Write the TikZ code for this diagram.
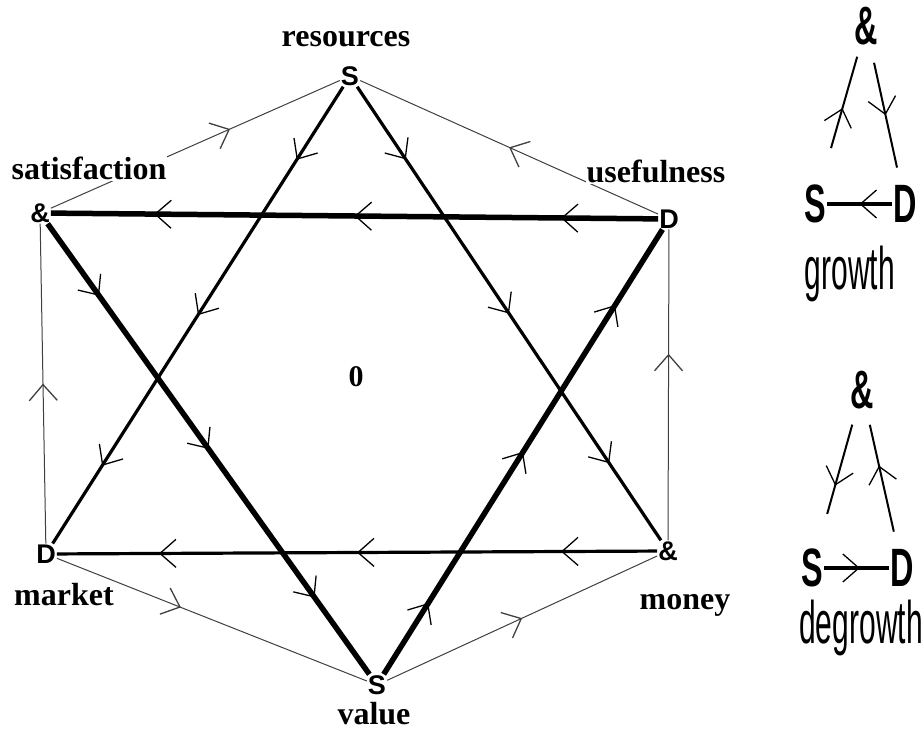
\documentclass[tikz,border=0pt]{standalone}
\usepackage{fontspec}
\setmainfont{Liberation Serif}
\setsansfont{Liberation Sans}
\usetikzlibrary{arrows.meta,decorations.markings}
\begin{document}
\begin{tikzpicture}[x=1pt,y=-1pt,
  barb/.tip={Straight Barb[length=16pt,width=28pt,line width=1.3pt]},
  one/.style={postaction={decorate,decoration={markings,mark=at position #1 with {\arrow{barb}}}}},
  three/.style={postaction={decorate,decoration={markings,
     mark=at position 0.16 with {\arrow{barb}},
     mark=at position 0.5 with {\arrow{barb}},
     mark=at position 0.83 with {\arrow{barb}}}}},
  thin/.style={line width=1pt,draw=black!75},
  med/.style={line width=3.2pt},
  heavy/.style={line width=5.5pt},
  vl/.style={font=\sffamily\bfseries\fontsize{27}{27}\selectfont,inner sep=1pt},
  lab/.style={font=\bfseries\fontsize{32}{32}\selectfont,inner sep=1pt,anchor=base},
  labfill/.style={lab,fill=white},
  sm/.style={font=\sffamily\bfseries\fontsize{54}{54}\selectfont,xscale=0.6,inner sep=2pt},
  word/.style={font=\sffamily\fontsize{60}{60}\selectfont,xscale=0.5,inner sep=0pt,anchor=base},
  smline/.style={line width=2pt},
  smbase/.style={line width=3.5pt},
]
\fill[white] (0,0) rectangle (924,730);
\useasboundingbox (0,0) rectangle (924,730);

% vertices
\node[vl] (R) at (350,76) {S};
\node[vl] (Sa) at (40,213) {\&};
\node[vl] (U) at (669,219) {D};
\node[vl] (M) at (46,554) {D};
\node[vl] (Mo) at (668,551) {\&};
\node[vl] (V) at (377,685) {S};

% hexagon (thin)
\draw[thin,one=0.62] (Sa) -- (R);
\draw[thin,one=0.5] (U) -- (R);
\draw[thin,one=0.5] (M) -- (Sa);
\draw[thin,one=0.6] (Mo) -- (U);
\draw[thin,one=0.4] (M) -- (V);
\draw[thin,one=0.5] (V) -- (Mo);

% triangle 1 (heavy)
\draw[heavy,three] (U) -- (Sa);
\draw[heavy,three] (Sa) -- (V);
\draw[heavy,three] (V) -- (U);

% triangle 2 (medium)
\draw[med,three] (R) -- (M);
\draw[med,three] (R) -- (Mo);
\draw[med,three] (Mo) -- (M);

% labels
\node[lab] (lR) at (346,47) {resources};
\node[labfill] (lSa) at (89,180) {satisfaction};
\node[labfill] (lU) at (656,183) {usefulness};
\node[lab] (lM) at (64,605) {market};
\node[lab] (lMo) at (685,609) {money};
\node[lab,inner sep=0pt] (lV) at (374,724) {value};
\node[font=\bfseries\fontsize{30}{30}\selectfont] (zero) at (356,377) {0};

% growth
\node[sm] (A1) at (866,26) {\&};
\node[sm] (S1) at (815,204) {S};
\node[sm] (D1) at (905,204) {D};
\draw[smline,one=0.55,shorten <=36pt,shorten >=10pt] (S1) -- (A1);
\draw[smline,one=0.5,shorten <=16pt,shorten >=16pt] (A1) -- (D1);
\draw[smbase,one=0.5] (D1) -- (S1);
\node[word] (g) at (850,290) {growth};

% degrowth
\node[sm] (A2) at (862,390) {\&};
\node[sm] (S2) at (812,568) {S};
\node[sm] (D2) at (902,568) {D};
\draw[smline,one=0.55,shorten <=14pt,shorten >=34pt] (A2) -- (S2);
\draw[smline,one=0.6,shorten <=16pt,shorten >=14pt] (D2) -- (A2);
\draw[smbase,one=0.55] (S2) -- (D2);
\node[word] (dg) at (861,643) {degrowth};
\end{tikzpicture}
\end{document}
